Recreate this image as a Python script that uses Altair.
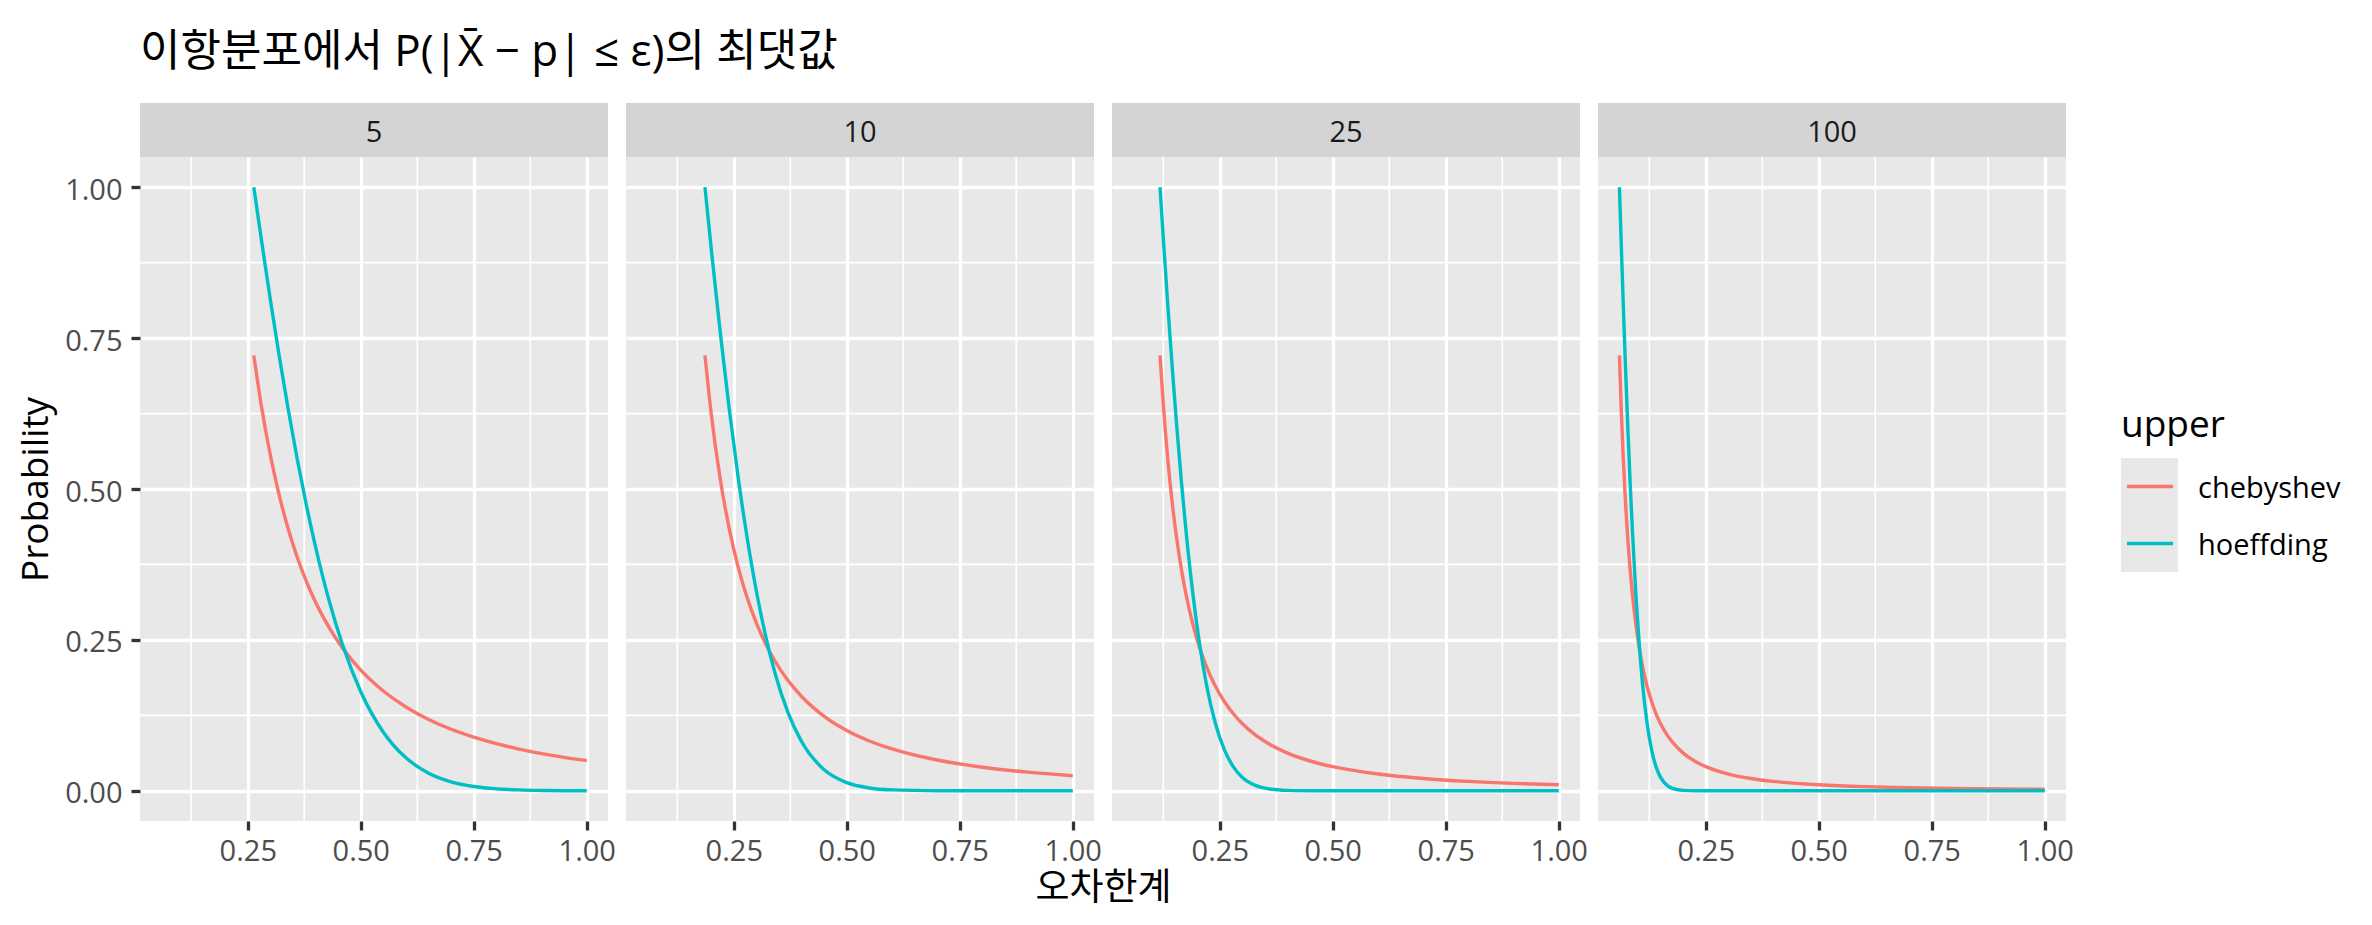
import altair as alt
import pandas as pd

FONT_KR = "Noto Sans CJK KR"
FONT_LAT = "Open Sans"
FONT_MIX = "Open Sans, Noto Sans CJK KR"
TITLE = "이항분포에서 P(|X̄ − p| ≤ ε)의 최댓값"
X_TITLE = "오차한계"
Y_TITLE = "Probability"
LEGEND_TITLE = "upper"

N_VALUES = [5, 10, 25, 100]
UPPER = ["chebyshev", "hoeffding"]
COLORS = ["#F8766D", "#00BFC4"]
X_TICKS = [0.25, 0.50, 0.75, 1.00]
X_MINOR = [0.125, 0.375, 0.625, 0.875]
Y_TICKS = [0.00, 0.25, 0.50, 0.75, 1.00]
Y_MINOR = [0.125, 0.375, 0.625, 0.875]

# n = 5
eps_5 = [0.2633, 0.28, 0.30, 0.32, 0.34, 0.36, 0.38, 0.40, 0.43, 0.46, 0.50,
         0.55, 0.60, 0.65, 0.70, 0.75, 0.80, 0.85, 0.90, 0.95, 1.00]
cheb_5 = [0.7213, 0.6378, 0.5556, 0.4883, 0.4325, 0.3858, 0.3463, 0.3125, 0.2704, 0.2363, 0.2000,
          0.1653, 0.1389, 0.1183, 0.1020, 0.0889, 0.0781, 0.0692, 0.0617, 0.0554, 0.0500]
hoef_5 = [1.0000, 0.9132, 0.8131, 0.7184, 0.6295, 0.5472, 0.4719, 0.4038, 0.3148, 0.2411, 0.1642,
          0.0971, 0.0546, 0.0293, 0.0149, 0.0072, 0.0033, 0.0015, 0.0006, 0.0002, 0.0001]

# n = 10
eps_10 = [0.1862, 0.20, 0.22, 0.24, 0.26, 0.28, 0.30, 0.32, 0.34, 0.37, 0.40,
          0.45, 0.50, 0.55, 0.60, 0.70, 0.80, 0.90, 1.00]
cheb_10 = [0.7213, 0.6250, 0.5165, 0.4340, 0.3698, 0.3189, 0.2778, 0.2441, 0.2163, 0.1826, 0.1563,
           0.1235, 0.1000, 0.0826, 0.0694, 0.0510, 0.0391, 0.0309, 0.0250]
hoef_10 = [1.0000, 0.8987, 0.7598, 0.6320, 0.5174, 0.4170, 0.3306, 0.2580, 0.1981, 0.1294, 0.0815,
           0.0348, 0.0135, 0.0047, 0.0015, 0.0001, 0.0000, 0.0000, 0.0000]

# n = 25
eps_25 = [0.1177, 0.125, 0.135, 0.145, 0.155, 0.165, 0.175, 0.19, 0.205, 0.22, 0.24, 0.26,
          0.28, 0.30, 0.33, 0.36, 0.40, 0.45, 0.50, 0.60, 0.70, 0.80, 0.90, 1.00]
cheb_25 = [0.7213, 0.6400, 0.5487, 0.4756, 0.4162, 0.3673, 0.3265, 0.2770, 0.2380, 0.2066, 0.1736, 0.1479,
           0.1276, 0.1111, 0.0918, 0.0772, 0.0625, 0.0494, 0.0400, 0.0278, 0.0204, 0.0156, 0.0123, 0.0100]
hoef_25 = [1.0000, 0.9156, 0.8040, 0.6990, 0.6016, 0.5127, 0.4326, 0.3290, 0.2446, 0.1778, 0.1123, 0.0681,
           0.0397, 0.0222, 0.0086, 0.0031, 0.0007, 0.0001, 0.0000, 0.0000, 0.0000, 0.0000, 0.0000, 0.0000]

# n = 100
eps_100 = [0.0589, 0.0625, 0.0675, 0.0725, 0.0775, 0.0825, 0.0875, 0.095, 0.1025, 0.11, 0.12, 0.13,
           0.14, 0.15, 0.165, 0.18, 0.20, 0.225, 0.25, 0.30, 0.35, 0.40, 0.45, 0.50,
           0.60, 0.70, 0.80, 0.90, 1.00]
cheb_100 = [0.7213, 0.6400, 0.5487, 0.4756, 0.4162, 0.3673, 0.3265, 0.2770, 0.2380, 0.2066, 0.1736, 0.1479,
            0.1276, 0.1111, 0.0918, 0.0772, 0.0625, 0.0494, 0.0400, 0.0278, 0.0204, 0.0156, 0.0123, 0.0100,
            0.0069, 0.0051, 0.0039, 0.0031, 0.0025]
hoef_100 = [1.0000, 0.9156, 0.8040, 0.6990, 0.6016, 0.5127, 0.4326, 0.3290, 0.2446, 0.1778, 0.1123, 0.0681,
            0.0397, 0.0222, 0.0086, 0.0031, 0.0007, 0.0001, 0.0000, 0.0000, 0.0000, 0.0000, 0.0000, 0.0000,
            0.0000, 0.0000, 0.0000, 0.0000, 0.0000]

SERIES = {
    5: (eps_5, cheb_5, hoef_5),
    10: (eps_10, cheb_10, hoef_10),
    25: (eps_25, cheb_25, hoef_25),
    100: (eps_100, cheb_100, hoef_100),
}

rows = []
for n in N_VALUES:
    eps, ch, ho = SERIES[n]
    for e, c, h in zip(eps, ch, ho):
        rows.append({"n": n, "eps": e, "upper": "chebyshev", "p": c})
        rows.append({"n": n, "eps": e, "upper": "hoeffding", "p": h})
df = pd.DataFrame(rows)

# ---- styling ----
W, H = 468, 664
PANEL_BG = "#E8E8E8"
STRIP_BG = "#D4D4D4"
GRID_MAJOR = 3.3
GRID_MINOR = 1.7
LINE_W = 3.4

x_scale = alt.Scale(domain=[0.0115, 1.047], nice=False, zero=False)
y_scale = alt.Scale(domain=[-0.05, 1.05], nice=False, zero=False)
color_scale = alt.Scale(domain=UPPER, range=COLORS)


def x_axis(with_title):
    kw = dict(values=X_TICKS, format=".2f", grid=True, gridColor="white", gridWidth=GRID_MAJOR,
              domain=False, ticks=True, tickColor="#333333", tickWidth=GRID_MAJOR, tickSize=9,
              labelFont=FONT_LAT, labelFontSize=29, labelColor="#4D4D4D", labelPadding=7,
              labelFlush=False)
    if with_title:
        kw.update(title=X_TITLE, titleFont=FONT_KR, titleFontSize=37, titleFontWeight="normal",
                  titleColor="black", titleX=477, titleY=67, titleAlign="center",
                  titleBaseline="middle", titleAngle=0)
    else:
        kw["title"] = None
    return alt.Axis(**kw)


def y_axis(first):
    kw = dict(values=Y_TICKS, format=".2f", grid=True, gridColor="white", gridWidth=GRID_MAJOR,
              domain=False)
    if first:
        kw.update(ticks=True, tickColor="#333333", tickWidth=GRID_MAJOR, tickSize=9,
                  labels=True, labelFont=FONT_LAT, labelFontSize=29, labelColor="#4D4D4D",
                  labelPadding=9, labelOffset=3, title=Y_TITLE, titleFont=FONT_LAT, titleFontSize=37,
                  titleFontWeight="normal", titleColor="black", titleAngle=270,
                  titleX=-104, titleY=H / 2, titleAlign="center", titleBaseline="middle")
    else:
        kw.update(ticks=False, labels=False, title=None)
    return alt.Axis(**kw)


def make_panel(i, n):
    xax = x_axis(i == 1)
    yax = y_axis(i == 0)
    sub = df[df["n"] == n]
    minor_x = alt.Chart(pd.DataFrame({"v": X_MINOR})).mark_rule(
        color="white", strokeWidth=GRID_MINOR
    ).encode(x=alt.X("v:Q", scale=x_scale, axis=xax))
    minor_y = alt.Chart(pd.DataFrame({"v": Y_MINOR})).mark_rule(
        color="white", strokeWidth=GRID_MINOR
    ).encode(y=alt.Y("v:Q", scale=y_scale, axis=yax))
    lines = alt.Chart(sub).mark_line(strokeWidth=LINE_W, interpolate="monotone").encode(
        x=alt.X("eps:Q", scale=x_scale, axis=xax),
        y=alt.Y("p:Q", scale=y_scale, axis=yax),
        color=alt.Color("upper:N", scale=color_scale, legend=None),
        order=alt.Order("eps:Q"),
    )
    strip_df = pd.DataFrame({"lab": [str(n)]})
    strip = alt.Chart(strip_df).mark_rect(color=STRIP_BG).encode(
        x=alt.value(0), x2=alt.value(W), y=alt.value(-54), y2=alt.value(0)
    )
    strip_text = alt.Chart(strip_df).mark_text(
        font=FONT_LAT, fontSize=29, color="#1A1A1A", align="center", baseline="alphabetic"
    ).encode(x=alt.value(W / 2), y=alt.value(-15), text="lab:N")
    return alt.layer(minor_x, minor_y, lines, strip, strip_text).properties(
        width=W, height=H, view=alt.ViewBackground(fill=PANEL_BG, stroke=None)
    )


panels = [make_panel(i, n) for i, n in enumerate(N_VALUES)]

# ---- legend (drawn as its own small view) ----
leg_df = pd.DataFrame({"upper": UPPER})
leg_title_df = pd.DataFrame({"t": [LEGEND_TITLE]})
ly = alt.Y("upper:N", scale=alt.Scale(type="point", domain=UPPER, range=[329.5, 386.5], padding=0),
           axis=None)
leg_bg = alt.Chart(leg_title_df).mark_rect(color=PANEL_BG).encode(
    x=alt.value(37), x2=alt.value(94), y=alt.value(301), y2=alt.value(415)
)
leg_keys = alt.Chart(leg_df).mark_rule(strokeWidth=LINE_W).encode(
    x=alt.value(43), x2=alt.value(89), y=ly,
    color=alt.Color("upper:N", scale=color_scale, legend=None),
)
leg_labels = alt.Chart(leg_df).mark_text(
    align="left", baseline="middle", font=FONT_LAT, fontSize=29, color="black", dy=2
).encode(x=alt.value(114), y=ly, text="upper:N")
leg_title = alt.Chart(leg_title_df).mark_text(
    align="left", baseline="alphabetic", font=FONT_LAT, fontSize=37, color="black"
).encode(x=alt.value(37), y=alt.value(280), text="t:N")
legend_chart = alt.layer(leg_bg, leg_keys, leg_labels, leg_title).properties(
    width=250, height=H, view=alt.ViewBackground(stroke=None)
)

chart = alt.hconcat(*panels, legend_chart, spacing=18, bounds="flush").properties(
    title=alt.Title(TITLE, anchor="start", frame="group", font=FONT_MIX, fontSize=44,
                    fontWeight="normal", color="black", offset=28),
    padding={"left": 9, "top": 23, "right": 5, "bottom": 12},
).configure_view(stroke=None)

chart.save("out.html", embed_options={"renderer": "svg", "actions": False})
